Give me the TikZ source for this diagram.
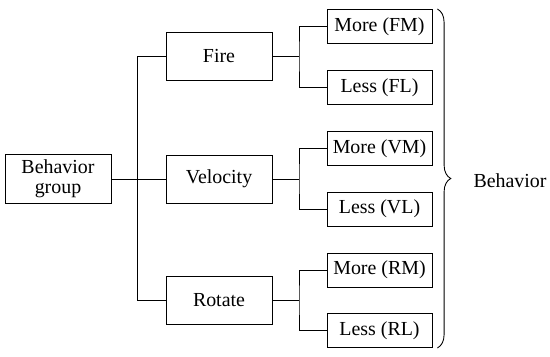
\documentclass[tikz,border=0pt]{standalone}
\usepackage{fontspec}
\setmainfont{Liberation Serif}
\usetikzlibrary{
  calc,
  positioning,
  decorations.pathreplacing
}

\begin{document}
\begin{tikzpicture}[
            font=\rmfamily\fontsize{17}{20}\selectfont,
            line width=0.75pt,
            group/.style={rectangle, minimum width=3.18cm, minimum height=1.47cm, text centered, draw=black, fill=white, align=center, inner sep=1pt},
            action/.style={rectangle, minimum width=3.18cm, minimum height=1.44cm, text centered, draw=black, fill=white},
            leaf/.style={rectangle, minimum width=3.15cm, minimum height=1.02cm, text centered, draw=black, fill=white, inner sep=1pt},
            link/.style={draw=black}
        ]
        \useasboundingbox (0,0) rectangle (16.5,10.71);

        % Nodi
        \node (root) [group] at (1.74,5.34) {Behavior\\[-3pt]group};

        \node (fire) [action] at (6.57,9.03) {Fire};
        \node (velocity) [action] at (6.57,5.34) {Velocity};
        \node (rotate) [action] at (6.57,1.71) {Rotate};

        \node (fm) [leaf] at (11.385,9.915) {More (FM)};
        \node (fl) [leaf] at (11.385,8.085) {Less (FL)};
        \node (vm) [leaf] at (11.385,6.255) {More (VM)};
        \node (vl) [leaf] at (11.385,4.44) {Less (VL)};
        \node (rm) [leaf] at (11.385,2.61) {More (RM)};
        \node (rl) [leaf] at (11.385,0.795) {Less (RL)};

        \node (behavior) at (15.3,5.28) {Behavior};

        % Giunzioni
        \coordinate (trunk) at (4.11,0);
        \coordinate (fj) at (8.97,9.03);
        \coordinate (vj) at (8.97,5.34);
        \coordinate (rj) at (8.97,1.71);

        % Collegamenti
        \draw [link] (root) -- (velocity);
        \draw [link] (fire.west) -- (fire -| trunk) -- (rotate -| trunk) -- (rotate.west);

        \draw [link] (fire.east) -- (fj);
        \draw [link] (fm.west) -| (fj) |- (fl.west);
        \draw [link] (velocity.east) -- (vj);
        \draw [link] (vm.west) -| (vj) |- (vl.west);
        \draw [link] (rotate.east) -- (rj);
        \draw [link] (rm.west) -| (rj) |- (rl.west);

        % Parentesi
        \draw [link, decorate, decoration={brace, amplitude=0.4cm}]
            ($(fm.north east)+(0.15,0)$) -- ($(rl.south east)+(0.15,0)$);

    \end{tikzpicture}
\end{document}
